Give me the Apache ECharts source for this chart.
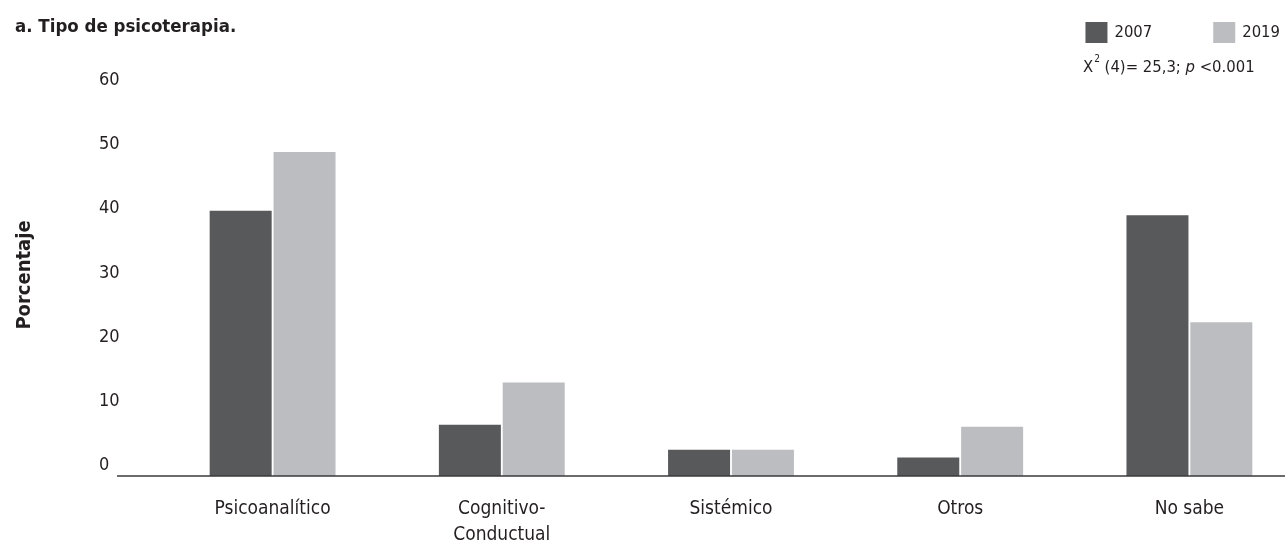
<!DOCTYPE html>
<html>
<head>
<meta charset="utf-8">
<script src="https://cdn.jsdelivr.net/npm/echarts@6/dist/echarts.min.js"></script>
<style>
  html, body { margin: 0; padding: 0; background: #fff; }
  #chart { width: 1285px; height: 544px; }
</style>
</head>
<body>
<div id="chart"></div>
<script>
const categories = ['Psicoanalítico', 'Cognitivo-\nConductual', 'Sistémico', 'Otros', 'No sabe'];
const values2007 = [41.4, 8.0, 4.1, 2.9, 40.7];
const values2019 = [50.6, 14.6, 4.1, 7.7, 24.0];
const yTicks = [0, 10, 20, 30, 40, 50, 60];

const FONT = "'Liberation Sans Narrow', 'DejaVu Sans Condensed', 'Roboto', sans-serif";
const TEXT = '#231f20';

const chart = echarts.init(document.getElementById('chart'), null, { renderer: 'canvas' });

const option = {
  animation: false,
  backgroundColor: '#ffffff',
  textStyle: { fontFamily: FONT, color: TEXT },
  title: {
    text: 'a. Tipo de psicoterapia.',
    left: 10,
    top: 13,
    textStyle: { fontFamily: FONT, fontWeight: 'bold', fontSize: 18.5, color: TEXT }
  },
  legend: {
    data: ['2007', '2019'],
    right: 0,
    top: 17,
    itemWidth: 22,
    itemHeight: 21,
    itemGap: 61,
    icon: 'rect',
    textStyle: { fontFamily: FONT, fontSize: 16.5, color: TEXT, padding: [0, 0, 0, 2] }
  },
  grid: { left: 158, right: -19, top: 91.7, bottom: 68, outerBoundsMode: 'none', containLabel: false },
  xAxis: {
    type: 'category',
    data: categories,
    axisLine: { show: false },
    axisTick: { show: false },
    axisLabel: {
      fontFamily: FONT, fontSize: 19, color: TEXT, margin: 20, lineHeight: 26
    }
  },
  yAxis: {
    type: 'value',
    min: yTicks[0],
    max: yTicks[yTicks.length - 1],
    interval: 10,
    axisLine: { show: false },
    axisTick: { show: false },
    splitLine: { show: false },
    axisLabel: {
      fontFamily: FONT, fontSize: 18, color: TEXT,
      align: 'left', margin: 59, verticalAlign: 'bottom', lineHeight: 22
    }
  },
  series: [
    {
      name: '2007', type: 'bar', data: values2007,
      barWidth: 62, barGap: '3%',
      itemStyle: { color: '#58595b' }
    },
    {
      name: '2019', type: 'bar', data: values2019,
      barWidth: 62, barGap: '3%',
      itemStyle: { color: '#bcbdc1' }
    }
  ]
};

chart.setOption(option);

const y0 = chart.convertToPixel({ yAxisIndex: 0 }, 0);
chart.setOption({
  graphic: [
    {
      type: 'line',
      shape: { x1: 117, y1: y0, x2: 1285, y2: y0 },
      style: { stroke: '#3a3a3c', lineWidth: 1.5 },
      z: 10
    },
    {
      type: 'text',
      x: 25,
      y: 275,
      rotation: Math.PI / 2,
      style: {
        text: 'Porcentaje',
        fontFamily: FONT, fontSize: 20, fontWeight: 'bold', fill: TEXT,
        align: 'center', verticalAlign: 'middle'
      }
    },
    {
      type: 'text',
      left: 1083,
      top: 54,
      style: {
        text: '{n|X}{sup|2}{n| (4)= 25,3; }{it|p}{n| <0.001}',
        rich: {
          n: { fontFamily: FONT, fontSize: 16.5, fill: TEXT, verticalAlign: 'bottom', lineHeight: 22 },
          sup: { fontFamily: FONT, fontSize: 10, fill: TEXT, verticalAlign: 'top', lineHeight: 22, padding: [0, 0, 8, 1] },
          it: { fontFamily: FONT, fontSize: 16.5, fontStyle: 'italic', fill: TEXT, verticalAlign: 'bottom', lineHeight: 22 }
        }
      }
    }
  ]
});
</script>
</body>
</html>
